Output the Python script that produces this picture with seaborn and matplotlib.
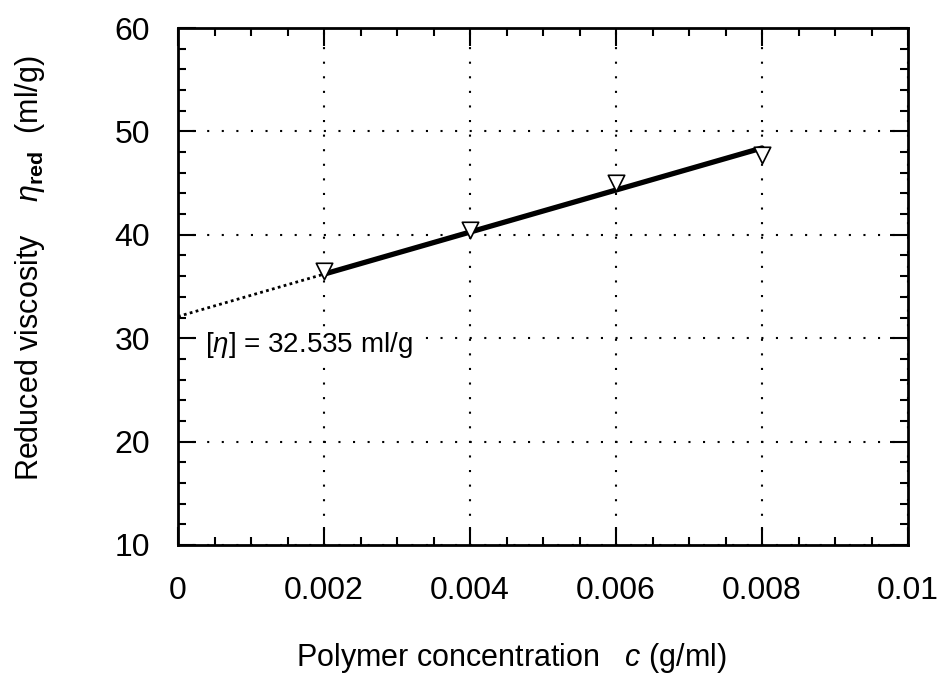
import matplotlib
matplotlib.use("Agg")
import matplotlib.pyplot as plt
import seaborn as sns
import pandas as pd
from matplotlib.ticker import MultipleLocator, FixedLocator

# ---- data ----
conc = [0.002, 0.004, 0.006, 0.008]          # g/ml
eta_red = [36.5, 40.5, 45.0, 47.7]           # ml/g
fit_c = [0.002, 0.008]
fit_eta = [36.2, 48.4]
extrap_c = [0.0, 0.002]
extrap_eta = [32.1, 36.2]
x_ticks = [0, 0.002, 0.004, 0.006, 0.008, 0.01]
x_labels = ["0", "0.002", "0.004", "0.006", "0.008", "0.01"]
y_ticks = [10, 20, 30, 40, 50, 60]
annotation = "= 32.535 ml/g"

sns.set_theme(style="white")
plt.rcParams['font.family'] = ['Liberation Sans', 'DejaVu Sans']
plt.rcParams['mathtext.fontset'] = 'custom'
plt.rcParams['mathtext.rm'] = 'Liberation Sans'
plt.rcParams['mathtext.it'] = 'Liberation Sans:italic'
plt.rcParams['mathtext.bf'] = 'Liberation Sans:bold'

fig = plt.figure(figsize=(9.42, 6.77), dpi=100)
ax = fig.add_axes([0.189, 0.195, 0.775, 0.7636])

df_pts = pd.DataFrame({"c": conc, "eta": eta_red})
df_fit = pd.DataFrame({"c": fit_c, "eta": fit_eta})
df_ext = pd.DataFrame({"c": extrap_c, "eta": extrap_eta})

sns.lineplot(data=df_ext, x="c", y="eta", ax=ax, color="black", lw=2,
             linestyle=(0, (1, 1.2)), zorder=3)
sns.lineplot(data=df_fit, x="c", y="eta", ax=ax, color="black", lw=3.8, zorder=3)
sns.scatterplot(data=df_pts, x="c", y="eta", ax=ax, marker="v", s=140,
                facecolor="white", edgecolor="black", linewidth=1.2, zorder=4)

ax.set_xlim(0, 0.01)
ax.set_ylim(10, 60)

ax.xaxis.set_major_locator(FixedLocator(x_ticks))
ax.set_xticklabels(x_labels)
ax.xaxis.set_minor_locator(MultipleLocator(0.0005))
ax.yaxis.set_major_locator(FixedLocator(y_ticks))
ax.yaxis.set_minor_locator(MultipleLocator(2))

ax.tick_params(which="both", direction="in", top=True, right=True,
               bottom=True, left=True, color="black", width=1.5)
ax.tick_params(which="major", length=13)
ax.tick_params(which="minor", length=6)
ax.tick_params(axis="x", which="major", labelsize=23, pad=22, labelcolor="black")
ax.tick_params(axis="y", which="major", labelsize=23, pad=20, labelcolor="black")

for sp in ax.spines.values():
    sp.set_visible(True)
    sp.set_color("black")
    sp.set_linewidth(2)

ax.grid(True, which="major", color="black", linestyle=(0, (1, 6)), lw=1.5)

ax.set_xlabel(r"Polymer concentration   $c$ (g/ml)", fontsize=22, color="black")
ax.xaxis.set_label_coords(0.456, -0.185)
ax.set_ylabel(r"Reduced viscosity    $\eta_{\mathbf{red}}$  (ml/g)", fontsize=22,
              color="black")
ax.yaxis.set_label_coords(-0.18, 0.536)

ax.text(0.00037, 29.3, r"$[\eta]$ " + annotation, fontsize=20, color="black",
        va="center", ha="left", zorder=5,
        bbox=dict(facecolor="white", edgecolor="none", pad=1))

fig.savefig("out.png", dpi=100)
